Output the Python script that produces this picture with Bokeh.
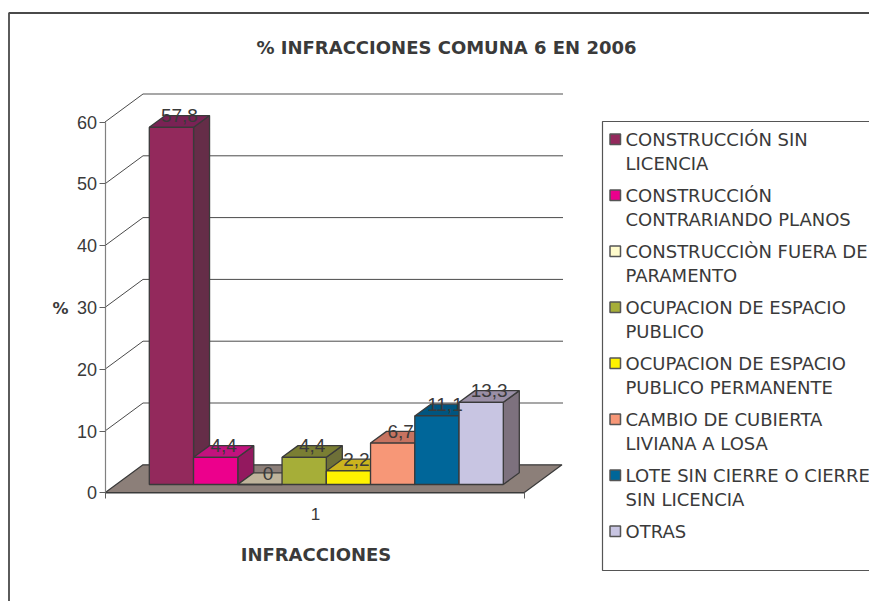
from bokeh.plotting import figure
from bokeh.models import FixedTicker, ColumnDataSource
from bokeh.core.properties import value
from bokeh.embed import file_html
from bokeh.resources import INLINE

# ---- data
title = "% INFRACCIONES COMUNA 6 EN 2006"
x_title = "INFRACCIONES"
y_title = "%"
category = "1"
series_values = [57.8, 4.4, 0, 4.4, 2.2, 6.7, 11.1, 13.3]
series_labels = ["57,8", "4,4", "0", "4,4", "2,2", "6,7", "11,1", "13,3"]
series_names = [
    ["CONSTRUCCIÓN SIN", "LICENCIA"],
    ["CONSTRUCCIÓN", "CONTRARIANDO PLANOS"],
    ["CONSTRUCCIÒN FUERA DE", "PARAMENTO"],
    ["OCUPACION DE ESPACIO", "PUBLICO"],
    ["OCUPACION DE ESPACIO", "PUBLICO PERMANENTE"],
    ["CAMBIO DE CUBIERTA", "LIVIANA A LOSA"],
    ["LOTE SIN CIERRE O CIERRE", "SIN LICENCIA"],
    ["OTRAS"],
]
front_colors = ["#93295C", "#EC008C", "#FFFBCC", "#A6AE38", "#FFF200", "#F79777", "#006699", "#C8C5E2"]
top_colors = ["#7A2255", "#C2127E", "#BFB49B", "#7A7E33", "#CBB41E", "#C67360", "#005580", "#9A8FA6"]
side_colors = ["#652D48", "#93195F", "#A89E88", "#6E7038", "#A8961A", "#A5604E", "#00476B", "#7D717E"]
y_ticks = [0, 10, 20, 30, 40, 50, 60]

# ---- layout
W, H = 869, 601
PX_PER_UNIT = 6.18
ZERO_PX = 492.3
def py(pix):
    return (ZERO_PX - pix) / PX_PER_UNIT

AX_L, AX_R = 104.5, 523.5
WALL_DX, WALL_DY = 38, 28 / PX_PER_UNIT
BAR_X0, BAR_W = 148.8, 44.25
BAR_BASE = (492.3 - 484) / PX_PER_UNIT
DX, DY = 16, 11.7 / PX_PER_UNIT

EDGE = "#3A3A3A"
TXT = "#3A3A3A"
FONT = "DejaVu Sans"

p = figure(width=W, height=H, x_range=(0, W), y_range=(py(H), py(0)),
           toolbar_location=None, output_backend="svg", min_border=0,
           border_fill_color="white", background_fill_color="white", outline_line_color=None)
p.grid.visible = False

# value axis on the front plane
p.yaxis.fixed_location = AX_L
p.yaxis.bounds = (0, 60)
p.yaxis.ticker = FixedTicker(ticks=y_ticks)
p.yaxis.axis_line_color = "#808080"
p.yaxis.axis_line_width = 1.2
p.yaxis.major_tick_line_color = "#606060"
p.yaxis.major_tick_out = 6
p.yaxis.major_tick_in = 0
p.yaxis.minor_tick_out = 0
p.yaxis.minor_tick_in = 0
p.yaxis.major_label_text_font = "Liberation Sans"
p.yaxis.major_label_text_font_size = "18px"
p.yaxis.major_label_text_color = TXT
p.yaxis.major_label_standoff = 2

# category axis ticks
p.xaxis.fixed_location = 0
p.xaxis.bounds = (AX_L, AX_R)
p.xaxis.ticker = FixedTicker(ticks=[AX_L, AX_R])
p.xaxis.major_label_overrides = {AX_L: "", AX_R: ""}
p.xaxis.axis_line_color = EDGE
p.xaxis.major_tick_line_color = "#606060"
p.xaxis.major_tick_out = 6
p.xaxis.major_tick_in = 0
p.xaxis.minor_tick_out = 0
p.xaxis.minor_tick_in = 0

# chart-area border (runs off the right and bottom of the window)
p.line([W, 8.5, 8.5], [py(12.5), py(12.5), py(H)], line_color="#4A4A4A", line_width=1.8)

# walls: grid lines
for t in y_ticks[1:]:
    col = "#8A8A8A" if t in (10, 60) else "#4A4A4A"
    wid = 1.4 if t in (10, 60) else 1
    p.line([AX_L + WALL_DX, AX_R + WALL_DX + 1], [t + WALL_DY, t + WALL_DY],
           line_color=col, line_width=wid)
    p.line([AX_L, AX_L + WALL_DX], [t, t + WALL_DY], line_color="#4A4A4A", line_width=1)

# floor
p.patch([AX_L, AX_R, AX_R + WALL_DX, AX_L + WALL_DX], [0, 0, WALL_DY, WALL_DY],
        fill_color="#8C7F79", line_color=EDGE, line_width=1.2)

# bars
for i, v in enumerate(series_values):
    l = BAR_X0 + i * BAR_W
    r = l + BAR_W
    b = BAR_BASE
    t = b + v
    p.patch([r, r + DX, r + DX, r], [b, b + DY, t + DY, t],
            fill_color=side_colors[i], line_color=EDGE, line_width=1.3)
    p.patch([l, r, r + DX, l + DX], [t, t, t + DY, t + DY],
            fill_color=top_colors[i], line_color=EDGE, line_width=1.3)
    p.quad(left=[l], right=[r], bottom=[b], top=[t],
           fill_color=front_colors[i], line_color=EDGE, line_width=1.3)

# value labels
lab = ColumnDataSource(dict(
    x=[BAR_X0 + (i + 0.5) * BAR_W + DX / 2 for i in range(len(series_values))],
    y=[BAR_BASE + v + 11.5 / PX_PER_UNIT for v in series_values],
    t=series_labels))
p.text("x", "y", text="t", source=lab, text_align="center", text_baseline="alphabetic",
       text_font=value("Liberation Sans"), text_font_size="19px", text_color=TXT)

# category label
p.text([315], [py(513.5)], text=[category], text_align="center", text_baseline="middle",
       text_font=value("Liberation Sans"), text_font_size="17px", text_color=TXT)

# titles
p.text([446], [py(47)], text=[title], text_align="center", text_baseline="middle",
       text_font=value(FONT), text_font_style="bold", text_font_size="18px", text_color=TXT)
p.text([315.5], [py(554)], text=[x_title], text_align="center", text_baseline="middle",
       text_font=value(FONT), text_font_style="bold", text_font_size="18px", text_color=TXT)
p.text([60], [py(308)], text=[y_title], text_align="center", text_baseline="middle",
       text_font=value(FONT), text_font_style="bold", text_font_size="16px", text_color=TXT)

# legend
p.line([W, 602, 602, W], [py(121), py(121), py(570), py(570)], line_color="#555555", line_width=1.2)
row = 139.0
for i, lines in enumerate(series_names):
    p.quad(left=[609.5], right=[620], top=[py(row - 5.5)], bottom=[py(row + 5)],
           fill_color=front_colors[i], line_color="#555555", line_width=1.5)
    for j, s in enumerate(lines):
        p.text([625], [py(row + j * 24)], text=[s], text_align="left", text_baseline="middle",
               text_font=value(FONT), text_font_size="18px", text_color=TXT)
    row += 56

open("out.html", "w").write(file_html(p, INLINE))
